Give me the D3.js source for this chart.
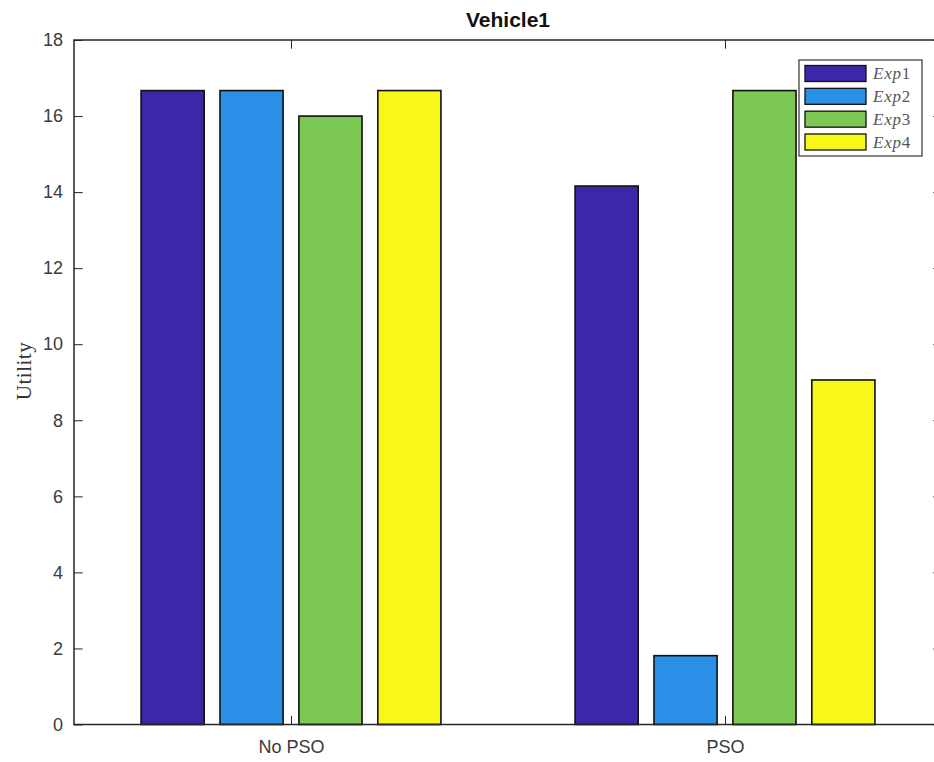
<!DOCTYPE html>
<html>
<head>
<meta charset="utf-8">
<script src="https://cdn.jsdelivr.net/npm/d3@7"></script>
<style>
  html, body { margin: 0; padding: 0; background: #fff; }
  svg { display: block; }
</style>
</head>
<body>
<svg id="chart" width="934" height="762"></svg>
<script>
// Grouped bar chart: utility of Vehicle1 per experiment, without and with PSO
const categories = ["No PSO", "PSO"];
const seriesNames = ["Exp1", "Exp2", "Exp3", "Exp4"];
const exp1 = [16.67, 14.16];
const exp2 = [16.67, 1.81];
const exp3 = [16.0, 16.67];
const exp4 = [16.67, 9.06];
const yTicks = [0, 2, 4, 6, 8, 10, 12, 14, 16, 18];
const colors = ["#3e26a8", "#2a8fe6", "#7dc855", "#f7f718"];

const seriesValues = [exp1, exp2, exp3, exp4];

const svg = d3.select("#chart");
const box = { left: 74, right: 942, top: 40, bottom: 724.5 };
const tickLen = 8.7;
const axisColor = "#262626";

// Category positions follow 1..n with half-unit margins
const x = d3.scaleLinear().domain([0.5, categories.length + 0.5]).range([box.left, box.right]);
const y = d3.scaleLinear().domain([0, 18]).range([box.bottom, box.top]);

// Within each group, bars share 8/11 of a unit
const groupWidth = Math.min(0.8, seriesNames.length / (seriesNames.length + 1.5));
const inner = d3.scaleBand()
  .domain(seriesNames)
  .range([-groupWidth / 2, groupWidth / 2])
  .paddingInner(0.2)
  .paddingOuter(0.1);

const plot = svg.append("g");

seriesNames.forEach((name, si) => {
  plot.selectAll(null)
    .data(seriesValues[si])
    .enter()
    .append("rect")
    .attr("x", (d, ci) => x(ci + 1 + inner(name)))
    .attr("width", (d, ci) => x(ci + 1 + inner(name) + inner.bandwidth()) - x(ci + 1 + inner(name)))
    .attr("y", d => y(d))
    .attr("height", d => y(0) - y(d))
    .attr("fill", colors[si])
    .attr("stroke", "#111")
    .attr("stroke-width", 1.6);
});

// Axes with inward ticks
const fontAxis = "'Liberation Sans', Arial, sans-serif";

const yAxis = d3.axisLeft(y).tickValues(yTicks).tickSize(-tickLen).tickPadding(11).tickFormat(d3.format("d"));
const gy = svg.append("g").attr("transform", `translate(${box.left},0)`).call(yAxis);
gy.select(".domain").remove();
gy.selectAll("line").attr("stroke", axisColor).attr("stroke-width", 1);
gy.selectAll("text").attr("font-family", fontAxis).attr("font-size", 18).attr("fill", "#3a3a3a");

const yAxisR = d3.axisRight(y).tickValues(yTicks).tickSize(-tickLen).tickFormat("");
const gyr = svg.append("g").attr("transform", `translate(${box.right},0)`).call(yAxisR);
gyr.select(".domain").remove();
gyr.selectAll("line").attr("stroke", axisColor).attr("stroke-width", 1);

const xAxis = d3.axisBottom(x).tickValues(d3.range(1, categories.length + 1))
  .tickSize(-tickLen).tickPadding(16).tickFormat(d => categories[d - 1]);
const gx = svg.append("g").attr("transform", `translate(0,${box.bottom})`).call(xAxis);
gx.select(".domain").remove();
gx.selectAll("line").attr("stroke", axisColor).attr("stroke-width", 1);
gx.selectAll("text").attr("font-family", fontAxis).attr("font-size", 18).attr("fill", "#3a3a3a");

const xAxisT = d3.axisTop(x).tickValues(d3.range(1, categories.length + 1)).tickSize(-tickLen).tickFormat("");
const gxt = svg.append("g").attr("transform", `translate(0,${box.top})`).call(xAxisT);
gxt.select(".domain").remove();
gxt.selectAll("line").attr("stroke", axisColor).attr("stroke-width", 1);

// Axes box
svg.append("rect")
  .attr("x", box.left).attr("y", box.top)
  .attr("width", box.right - box.left).attr("height", box.bottom - box.top)
  .attr("fill", "none").attr("stroke", axisColor).attr("stroke-width", 1.5);

// Title
svg.append("text")
  .attr("x", (box.left + box.right) / 2).attr("y", 27)
  .attr("text-anchor", "middle")
  .attr("font-family", fontAxis).attr("font-weight", "bold").attr("font-size", 21)
  .attr("fill", "#111")
  .text("Vehicle1");

// Y label (serif, as typeset)
svg.append("text")
  .attr("transform", `translate(31,371) rotate(-90)`)
  .attr("text-anchor", "middle")
  .attr("font-family", "'Liberation Serif', 'DejaVu Serif', serif").attr("font-size", 21)
  .attr("letter-spacing", 0.5)
  .attr("fill", "#333")
  .text("Utility");

// Legend
const legend = svg.append("g");
legend.append("rect")
  .attr("x", 799).attr("y", 60).attr("width", 123).attr("height", 96)
  .attr("fill", "#fff").attr("stroke", "#333").attr("stroke-width", 1.2);

const rowY = d3.scaleLinear().domain([0, 3]).range([73.5, 142]);
seriesNames.forEach((name, i) => {
  legend.append("rect")
    .attr("x", 805).attr("y", rowY(i) - 8).attr("width", 61).attr("height", 16)
    .attr("fill", colors[i]).attr("stroke", "#111").attr("stroke-width", 1.3);
  const t = legend.append("text")
    .attr("x", 873).attr("y", rowY(i) + 5.5)
    .attr("font-family", "'Liberation Serif', 'DejaVu Serif', serif").attr("font-size", 17)
    .attr("letter-spacing", 0.8)
    .attr("fill", "#555");
  t.append("tspan").attr("font-style", "italic").text(name.slice(0, 3));
  t.append("tspan").text(name.slice(3));
});
</script>
</body>
</html>
